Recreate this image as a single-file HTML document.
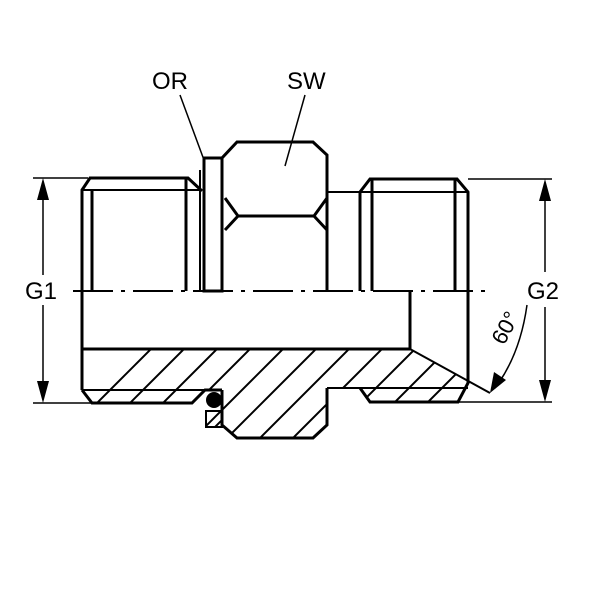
<!DOCTYPE html>
<html><head><style>body{margin:0;background:#fff}svg{display:block}</style></head><body>
<svg width="600" height="600" viewBox="0 0 600 600" xmlns="http://www.w3.org/2000/svg">
<defs>
<clipPath id="sec"><polygon points="82,349 410,349 468,380 468,383 458,402 370,402 360,388 327,388 327,425 313,438 237,438 222,425 222,390 205,390 192,403 92,403 82,390"/></clipPath>
<clipPath id="br"><rect x="206" y="411" width="16" height="16"/></clipPath>
</defs>
<rect width="600" height="600" fill="#fff"/>
<g clip-path="url(#sec)" stroke="#000" stroke-width="2">
<line x1="40" y1="460" x2="160" y2="340"/><line x1="73" y1="460" x2="193" y2="340"/><line x1="106" y1="460" x2="226" y2="340"/><line x1="139" y1="460" x2="259" y2="340"/><line x1="172" y1="460" x2="292" y2="340"/><line x1="205" y1="460" x2="325" y2="340"/><line x1="238" y1="460" x2="358" y2="340"/><line x1="271" y1="460" x2="391" y2="340"/><line x1="304" y1="460" x2="424" y2="340"/><line x1="337" y1="460" x2="457" y2="340"/><line x1="370" y1="460" x2="490" y2="340"/><line x1="403" y1="460" x2="523" y2="340"/><line x1="436" y1="460" x2="556" y2="340"/>
</g>
<g fill="none" stroke="#000" stroke-width="3" stroke-linejoin="miter">
<!-- left thread -->
<polyline points="82,390 82,190 90,178 188,178 202,191"/>
<line x1="82" y1="190" x2="202" y2="190" stroke-width="2"/>
<line x1="92" y1="190" x2="92" y2="291"/><line x1="186" y1="178" x2="186" y2="291"/>
<line x1="200" y1="170" x2="200" y2="291" stroke-width="2"/>
<rect x="204" y="158" width="18" height="133"/>
<!-- hex -->
<polyline points="222,291 222,158 237,142 313,142 327,155 327,291"/>
<polyline points="225,198 238,216 225,230"/><polyline points="327,198 314,216 327,230"/>
<line x1="238" y1="216" x2="314" y2="216"/>
<!-- right -->
<line x1="327" y1="192" x2="468" y2="192" stroke-width="2"/>
<polyline points="360,291 360,192 370,179 457,179 468,192 468,383 458,402 370,402 360,388"/>
<line x1="372" y1="179" x2="372" y2="291"/><line x1="455" y1="179" x2="455" y2="291"/>
<!-- section outline -->
<polyline points="82,349 410,349 410,291"/>
<line x1="410" y1="349" x2="490" y2="393" stroke-width="2"/>
<polyline points="327,388 468,388" stroke-width="2"/>
<polyline points="327,388 327,425 313,438 237,438 222,425 222,390"/>
<polyline points="82,390 92,403 192,403 205,390 222,390"/>
<line x1="82" y1="390" x2="205" y2="390" stroke-width="2"/>
<rect x="206" y="411" width="16" height="16" stroke-width="2"/>
</g>
<g clip-path="url(#br)" stroke="#000" stroke-width="2"><line x1="204" y1="428" x2="222" y2="410"/><line x1="212" y1="430" x2="230" y2="412"/></g>
<circle cx="214" cy="400" r="8" fill="#000"/>
<!-- centerline -->
<line x1="73" y1="291" x2="485" y2="291" stroke="#000" stroke-width="2" stroke-dasharray="40,8,4,8"/>
<!-- dims -->
<g stroke="#000" stroke-width="1.5">
<line x1="33" y1="178" x2="88" y2="178"/><line x1="33" y1="403" x2="92" y2="403"/>
<line x1="43" y1="195" x2="43" y2="275"/><line x1="43" y1="305" x2="43" y2="388"/>
<line x1="468" y1="179" x2="552" y2="179"/><line x1="458" y1="402" x2="552" y2="402"/>
<line x1="545" y1="195" x2="545" y2="272"/><line x1="545" y1="307" x2="545" y2="388"/>
<line x1="180" y1="95" x2="204" y2="160"/><line x1="305" y1="95" x2="285" y2="166"/>
<path d="M527,305 Q520,355 495,388" fill="none"/>
</g>
<g fill="#000">
<polygon points="43,178 37,200 49,200"/><polygon points="43,403 37,381 49,381"/>
<polygon points="545,179 539,201 551,201"/><polygon points="545,402 539,380 551,380"/>
<polygon points="490,393 494,372 506,380"/>
</g>
<g font-family="Liberation Sans, sans-serif" font-size="24" fill="#000">
<text x="25" y="299">G1</text><text x="527" y="299">G2</text>
<text x="152" y="89">OR</text><text x="287" y="89">SW</text>
<text x="0" y="0" font-size="22" transform="translate(504,346) rotate(-62)">60°</text>
</g>
</svg>
</body></html>
